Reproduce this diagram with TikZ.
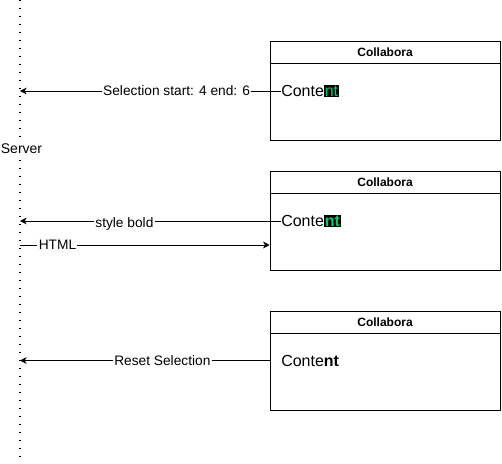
\documentclass[tikz,border=0pt]{standalone}
\usepackage{xcolor}
\usepackage{fontspec}
\setmainfont{Liberation Sans}
\usepackage{tikz}
\usetikzlibrary{positioning, arrows.meta}
\definecolor{MarkGreen}{HTML}{00CC66}
\newcommand{\marked}[1]{{\setlength{\fboxsep}{0.6pt}\colorbox{black}{\textcolor{MarkGreen}{#1}}}}

\begin{document}
\begin{tikzpicture}[x=0.75pt, y=-0.75pt,
            panel/.style={draw, minimum width=172.5pt, minimum height=74.25pt, inner sep=0pt},
            panelhead/.style={draw, anchor=north, minimum width=172.5pt, minimum height=16.5pt, inner sep=0pt, font=\fontsize{9}{10}\selectfont\bfseries},
            content/.style={anchor=west, inner sep=0pt, font=\fontsize{12}{14}\selectfont},
            msg/.style={-{Stealth[length=5pt, width=5pt, inset=1.5pt]}, line width=0.6pt},
            msglabel/.style={fill=white, inner sep=1pt, font=\fontsize{10.3}{12}\selectfont}
        ]
            \useasboundingbox (0,0) rectangle (502,463);

            % server lifeline
            \coordinate (srvtop) at (20,0);
            \coordinate (srvbottom) at (20,463);
            \draw[line width=1.4pt, dash pattern=on 1pt off 5pt] (srvtop) -- (srvbottom);
            \node[fill=white, inner sep=1pt, font=\fontsize{10.5}{12}\selectfont] (server) at (21.5,149) {Server};

            % collabora panels
            \node[panel] at (385,90.5) (box1) {};
            \node[panelhead] at (box1.north) (head1) {Collabora};
            \node[content] at (281,91) (text1) {Conte\marked{nt}};

            \node[panel] at (385,220.5) (box2) {};
            \node[panelhead] at (box2.north) (head2) {Collabora};
            \node[content] at (281,221) (text2) {Conte\marked{\bfseries nt}};

            \node[panel] at (385,360.5) (box3) {};
            \node[panelhead] at (box3.north) (head3) {Collabora};
            \node[content] at (281,361) (text3) {Conte\textbf{nt}};

            % messages
            \draw[msg] (text1.west) -- (text1.west -| srvtop)
                node[msglabel, pos=0.40] (sel) {Selection start: 4 end: 6};
            \draw[msg] (text2.west) -- (text2.west -| srvtop)
                node[msglabel, pos=0.60, yshift=-2.5pt] (bold) {style bold};
            \coordinate (htmlstart) at (20,245);
            \draw[msg] (htmlstart) -- (htmlstart -| box2.west)
                node[msglabel, pos=0.15] (html) {HTML};
            \draw[msg] (box3.west) -- (box3.west -| srvtop)
                node[msglabel, pos=0.43] (reset) {Reset Selection};

        \end{tikzpicture}
\end{document}
